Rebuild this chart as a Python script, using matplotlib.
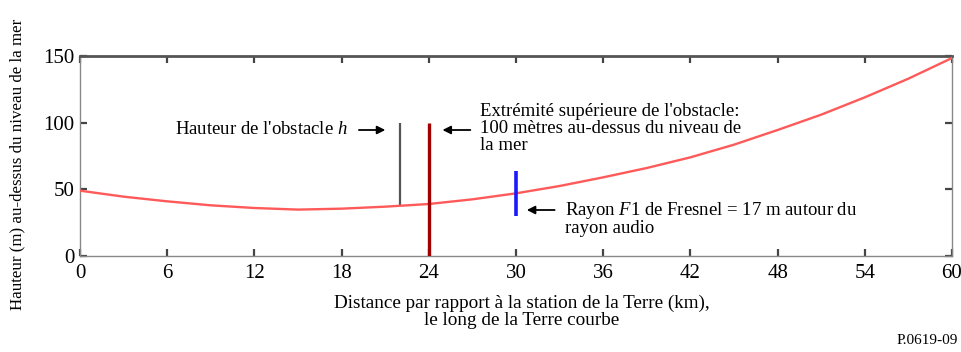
import matplotlib.pyplot as plt

# Ray height profile along the curved Earth (km, m above sea level)
distance_km = [0, 3, 6, 9, 12, 15, 18, 21, 24, 27, 30, 33, 36, 39, 42, 45, 48, 51, 54, 57, 60]
height_m = [49, 44.5, 41, 38, 36, 34.8, 35.5, 37, 39, 42.5, 47, 52.5, 59, 66, 74, 83.5, 94.5, 106, 119, 133, 148.5]

x_ticks = [0, 6, 12, 18, 24, 30, 36, 42, 48, 54, 60]
y_ticks = [0, 50, 100, 150]

obstacle_km = 22
obstacle_base_m = 38
obstacle_top_m = 100
top_km = 24
fresnel_km = 30
fresnel_center_m = 47
fresnel_radius_m = 17

plt.rcParams['font.family'] = ['Liberation Serif', 'DejaVu Serif']
plt.rcParams['font.size'] = 13.5
plt.rcParams['mathtext.fontset'] = 'custom'
plt.rcParams['mathtext.rm'] = 'Liberation Serif'
plt.rcParams['mathtext.it'] = 'Liberation Serif:italic'

fig = plt.figure(figsize=(9.61, 3.52), dpi=100)
ax = fig.add_axes([80/961, 96/352, 872/961, 200/352])

ax.plot(distance_km, height_m, color='#ff5a5a', lw=1.7, zorder=3)
ax.vlines(obstacle_km, obstacle_base_m, obstacle_top_m, color='#555555', lw=1.6, zorder=2)
ax.vlines(top_km, 0, obstacle_top_m, color='#a00000', lw=2.4, zorder=4)
ax.vlines(fresnel_km, fresnel_center_m - fresnel_radius_m,
          fresnel_center_m + fresnel_radius_m, color='#1a1aff', lw=2.6, zorder=4)

ax.set_xlim(0, 60)
ax.set_ylim(0, 150)
ax.set_xticks(x_ticks)
ax.set_yticks(y_ticks)
ax.tick_params(direction='in', length=5, width=1.6, color='#444444', pad=6,
               top=True, labelsize=15)
ax.tick_params(axis='y', right=True, pad=4)

for side in ['left', 'right', 'bottom']:
    ax.spines[side].set_color('#888888')
    ax.spines[side].set_linewidth(1.0)
ax.spines['top'].set_color('#555555')
ax.spines['top'].set_linewidth(2.0)

arrow = dict(arrowstyle='-|>', color='black', lw=1.3, mutation_scale=12)

# Obstacle height label with arrow to the grey bar
ax.annotate('', xy=(21.2, 94.5), xytext=(19.0, 94.5), arrowprops=arrow)
ax.text(18.45, 95, "Hauteur de l'obstacle $h$", ha='right', va='center')

# Obstacle top label with arrow to the dark red bar
ax.annotate('', xy=(24.75, 94.5), xytext=(27.05, 94.5), arrowprops=arrow)
ax.text(27.5, 115, "Extrémité supérieure de l'obstacle:\n100 mètres au-dessus du niveau de\nla mer",
        ha='left', va='top', linespacing=1.0)

# Fresnel radius label with arrow to the blue bar
ax.annotate('', xy=(30.55, 34.5), xytext=(32.85, 34.5), arrowprops=arrow)
ax.text(33.37, 42, "Rayon $\\mathit{F1}$ de Fresnel = 17 m autour du\nrayon audio",
        ha='left', va='top', linespacing=0.95)

ax.set_xlabel("Distance par rapport à la station de la Terre (km),\nle long de la Terre courbe",
              linespacing=0.95, fontsize=13.8)
ax.xaxis.set_label_coords((522 - 80) / 872, -0.195)
fig.text(17/961, 1 - 164/352, "Hauteur (m) au-dessus du niveau de la mer", rotation=90,
         ha='center', va='center', fontsize=12.2)
fig.text(958/961, 12/352, "P.0619-09", ha='right', va='center', fontsize=11)

fig.savefig('out.png', dpi=100)
